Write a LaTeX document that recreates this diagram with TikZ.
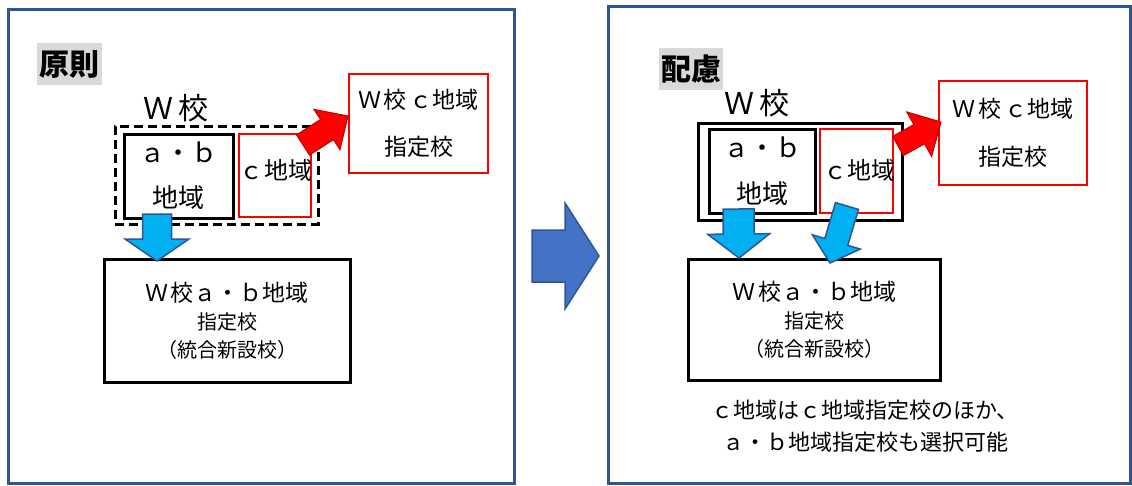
\documentclass[tikz,border=0pt]{standalone}
\usepackage{fontspec}
\setmainfont{Noto Sans CJK JP}
\usetikzlibrary{calc}

\definecolor{frameblue}{HTML}{2F5597}
\definecolor{labelgray}{HTML}{D9D9D9}
\definecolor{midblue}{HTML}{4472C4}
\definecolor{skyblue}{HTML}{00B0F0}
\definecolor{darkred}{HTML}{C00000}

\newcommand{\jsize}[2]{\fontsize{#1}{#2}\selectfont}
% block arrow: style, tail, tip, shaft half width, head half width, head length
\newcommand{\blockarrow}[6]{%
  \path ($(#3)!#6!(#2)$) coordinate (headbase);
  \draw[#1] ($(#2)!#4!90:(#3)$) -- ($(headbase)!#4!90:(#3)$) -- ($(headbase)!#5!90:(#3)$) -- (#3)
    -- ($(headbase)!#5!-90:(#3)$) -- ($(headbase)!#4!-90:(#3)$) -- ($(#2)!#4!-90:(#3)$) -- cycle;
}

\begin{document}
\begin{tikzpicture}[x=1pt,y=-1pt,
    panel/.style={draw=frameblue,line width=3pt},
    blackbox/.style={draw=black,line width=3pt,inner sep=0pt,align=center},
    redbox/.style={draw=red,line width=2.5pt,inner sep=0pt,align=center},
    headlabel/.style={fill=labelgray,inner sep=0pt,font=\jsize{30}{36}\bfseries},
    bluearrow/.style={fill=skyblue,draw=frameblue,line width=1.5pt},
    redarrow/.style={fill=red,draw=darkred,line width=1pt},
    midarrow/.style={fill=midblue,draw=frameblue,line width=1.5pt}]
    \useasboundingbox (0,0) rectangle (1132,485);

    % Left panel: principle
    \draw[panel] (8,9) rectangle (514,483);
    \node[headlabel,minimum width=65,minimum height=42] (rulehead) at (69.5,64) {原則};
    \node[font=\jsize{30}{36}] (ruleschool) at (176,108) {Ｗ\hspace{5pt}校};
    \node[blackbox,dash pattern=on 9pt off 5pt,minimum width=203,minimum height=98] (rulew) at (216.5,175) {};
    \node[blackbox,minimum width=109,minimum height=84,font=\jsize{26}{45}] (ruleab) at (178.5,176) {ａ・ｂ\\地域};
    \node[redbox,minimum width=72,minimum height=83] (rulec) at (275,175.5) {};
    \node[font=\jsize{24}{28}] (rulectext) at (276,170) {ｃ\hspace{2pt}地域};
    \node[redbox,minimum width=139,minimum height=99,font=\jsize{23}{47}] (rulecschool) at (418.5,123.5)
        {Ｗ\hspace{3pt}校\hspace{3pt}ｃ地域\\指定校};
    \node[blackbox,minimum width=246,minimum height=123,font=\jsize{20}{28}] (rulenew) at (227,320.5)
        {{\jsize{23}{28}Ｗ\hspace{3pt}校ａ・ｂ地域}\\指定校\\（統合新設校）};

    \coordinate (ruleabout) at (157,214);
    \coordinate (rulenewin) at (157,261);
    \blockarrow{bluearrow}{ruleabout}{rulenewin}{14.5pt}{32pt}{22pt}
    \coordinate (rulecout) at (303,145);
    \coordinate (rulecin) at (348,116);
    \blockarrow{redarrow}{rulecout}{rulecin}{12pt}{24pt}{25pt}

    % Middle arrow
    \coordinate (midtail) at (532,256);
    \coordinate (midtip) at (599,256);
    \blockarrow{midarrow}{midtail}{midtip}{26pt}{53pt}{34pt}

    % Right panel: consideration
    \draw[panel] (608,6) rectangle (1130,483);
    \node[headlabel,minimum width=64,minimum height=42] (carehead) at (691,69) {配慮};
    \node[font=\jsize{30}{36}] (careschool) at (757,103) {Ｗ\hspace{5pt}校};
    \node[blackbox,minimum width=204,minimum height=97] (carew) at (800,171.5) {};
    \node[blackbox,minimum width=106,minimum height=84,font=\jsize{26}{46}] (careab) at (762,171) {ａ・ｂ\\地域};
    \node[redbox,minimum width=73,minimum height=84] (carec) at (856.5,171) {};
    \node[font=\jsize{24}{28}] (carectext) at (859,170) {ｃ地域};
    \node[redbox,minimum width=148,minimum height=104,font=\jsize{23}{48}] (carecschool) at (1013,133)
        {Ｗ\hspace{3pt}校\hspace{3pt}ｃ地域\\指定校};
    \node[blackbox,minimum width=252,minimum height=121,font=\jsize{20}{28}] (carenew) at (814,319.5)
        {{\jsize{23}{28}Ｗ\hspace{3pt}校ａ・ｂ地域}\\指定校\\（統合新設校）};
    \node[font=\jsize{22}{32},align=center] (carenote) at (865,426)
        {ｃ地域はｃ地域指定校のほか、\\ａ・ｂ地域指定校も選択可能};

    \coordinate (careabout) at (738.5,209);
    \coordinate (careabin) at (739,258);
    \blockarrow{bluearrow}{careabout}{careabin}{15.5pt}{31pt}{24pt}
    \coordinate (carecout) at (847,206);
    \coordinate (carecin) at (830,263);
    \blockarrow{bluearrow}{carecout}{carecin}{12pt}{25pt}{22pt}
    \coordinate (carecschoolout) at (898,146);
    \coordinate (carecschoolin) at (941,122);
    \blockarrow{redarrow}{carecschoolout}{carecschoolin}{11pt}{25.5pt}{25pt}
\end{tikzpicture}
\end{document}
